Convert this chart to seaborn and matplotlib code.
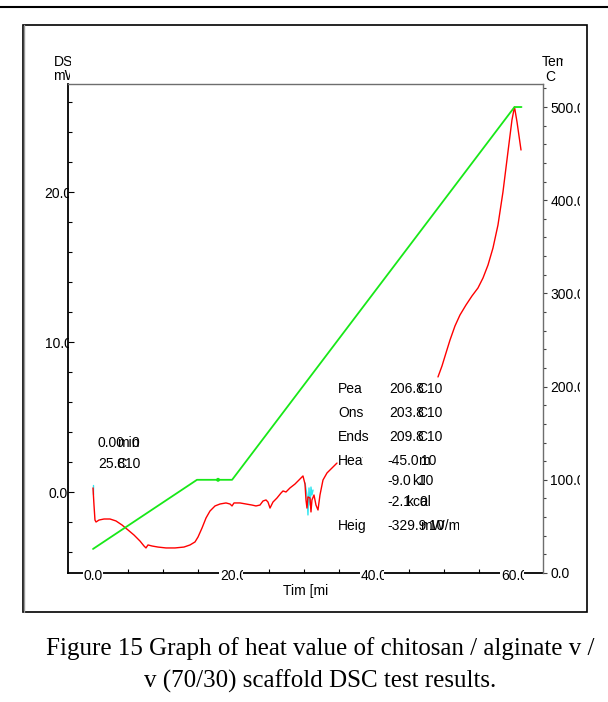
import matplotlib
matplotlib.use("Agg")
import numpy as np
import pandas as pd
import seaborn as sns
import matplotlib.pyplot as plt
from matplotlib.patches import Rectangle
from matplotlib.lines import Line2D
from matplotlib.transforms import Bbox, TransformedBbox, blended_transform_factory

# ---------------- data ----------------
dsc_time = [0.0, 0.14, 0.28, 0.43, 0.85, 1.57, 2.42, 3.27, 4.13, 4.98, 5.84, 6.69, 7.26, 7.54,
            7.83, 8.4, 9.25, 10.39, 11.67, 12.95, 13.81, 14.52, 14.95, 15.52, 16.09, 16.65,
            17.37, 18.08, 18.93, 19.5, 19.79, 20.07, 20.93, 21.78, 22.63, 23.2, 23.77, 24.2,
            24.63, 24.91, 25.2, 25.62, 26.19, 26.76, 27.05, 27.47, 28.04, 28.75, 29.47, 29.89,
            30.18, 30.32, 30.46, 30.6, 30.89, 31.03, 31.17, 31.46, 31.74, 32.03, 32.31, 32.74,
            33.31, 34.02, 34.73,
            49.11, 49.68, 50.25, 50.82, 51.53, 52.24, 53.1, 53.95, 54.8, 55.52, 56.23, 56.94,
            57.65, 58.36, 59.07, 59.64, 60.0, 60.36, 60.93]
dsc_mw = [0.27, -0.87, -1.87, -2.0, -1.87, -1.8, -1.8, -1.93, -2.2, -2.53, -2.87, -3.27, -3.6, -3.73,
          -3.53, -3.6, -3.67, -3.73, -3.73, -3.67, -3.53, -3.33, -3.0, -2.4, -1.73, -1.27,
          -0.93, -0.8, -0.73, -0.8, -0.93, -0.73, -0.73, -0.8, -0.87, -0.93, -0.87, -0.6,
          -0.53, -0.67, -1.07, -0.67, -0.4, -0.07, 0.07, 0.0, 0.27, 0.53, 0.87, 1.07,
          0.53, -0.53, -1.07, -0.33, -0.4, -1.33, -0.53, -0.2, -0.87, -1.2, -0.2, 0.8,
          1.27, 1.6, 1.93,
          7.67, 8.4, 9.27, 10.13, 11.07, 11.8, 12.47, 13.07, 13.6, 14.27, 15.13, 16.27,
          17.8, 20.0, 22.67, 24.8, 25.67, 24.67, 22.8]
dsc_seg = [0] * 65 + [1] * 19

cyan_time = [-0.07, -0.07, 30.18, 30.46, 30.6, 30.75, 30.9, 31.03, 31.17, 31.32]
cyan_mw = [0.47, -0.1, 0.6, -0.2, -1.53, 0.27, -0.87, 0.33, -0.2, 0.13]
cyan_seg = [0, 0, 1, 1, 1, 1, 1, 1, 1, 1]

temp_time = [0.0, 14.8, 19.8, 60.0, 61.0]
temp_c = [25.8, 100.0, 100.0, 500.0, 500.0]
mark_time = [17.8]
mark_c = [100.0]

left_ticks = [0, 10, 20]
left_labels = ["0.0", "10.0", "20.0"]
right_ticks = [0, 100, 200, 300, 400, 500]
right_labels = ["0.0", "100.0", "200.0", "300.0", "400.0", "500.0"]
x_ticks = [0, 20, 40, 60]
x_labels = ["0.0", "20.0", "40.0", "60.0"]

annot_names = ["Peak", "Onset", "Endset", "Heat", "Height"]
caption1 = "Figure 15 Graph of heat value of chitosan / alginate v /"
caption2 = "v (70/30) scaffold DSC test results."

# ---------------- figure ----------------
W, H = 608, 702
sns.set_theme(style="white")
plt.rcParams['font.family'] = ['Liberation Sans', 'DejaVu Sans']

fig = plt.figure(figsize=(W / 100, H / 100), dpi=100)
fig.patch.set_facecolor("white")

def fx(px):
    return px / W

def fy(py):
    return 1 - py / H

AX_L, AX_R, AX_T, AX_B = 68, 543, 84, 573
ax = fig.add_axes([fx(AX_L), fy(AX_B), (AX_R - AX_L) / W, (AX_B - AX_T) / H])
ax2 = ax.twinx()

dsc_df = pd.DataFrame({"t": dsc_time, "mw": dsc_mw, "seg": dsc_seg})
cyan_df = pd.DataFrame({"t": cyan_time, "mw": cyan_mw, "seg": cyan_seg})
temp_df = pd.DataFrame({"t": temp_time, "c": temp_c})
mark_df = pd.DataFrame({"t": mark_time, "c": mark_c})

sns.lineplot(data=dsc_df, x="t", y="mw", units="seg", estimator=None, sort=False,
             color="#ff0000", lw=1.0, ax=ax, zorder=3)
sns.lineplot(data=cyan_df, x="t", y="mw", units="seg", estimator=None, sort=False,
             color="#33e6f0", lw=1.0, ax=ax, zorder=2)
sns.lineplot(data=temp_df, x="t", y="c", estimator=None, sort=False,
             color="#18e818", lw=1.3, ax=ax2)
sns.scatterplot(data=mark_df, x="t", y="c", color="#18e818", s=8, edgecolor="none", ax=ax2)

ax.set_xlim(-3.56, 64.06)
ax.set_ylim(-5.4, 27.2)
ax2.set_ylim(0, 524.7)
ax.set_xlabel("")
ax.set_ylabel("")
ax2.set_ylabel("")

# spines
for s in ["left", "bottom"]:
    ax.spines[s].set_color("black")
    ax.spines[s].set_linewidth(1.3)
ax.spines["top"].set_color("#6e6e6e")
ax.spines["top"].set_linewidth(1.0)
ax.spines["right"].set_visible(False)
for s in ["left", "bottom", "top"]:
    ax2.spines[s].set_visible(False)
ax2.spines["right"].set_color("#6e6e6e")
ax2.spines["right"].set_linewidth(1.0)

FS = 10
# left axis ticks
ax.set_yticks(left_ticks)
ax.set_yticklabels(left_labels)
ax.set_yticks(np.arange(-4, 27, 2), minor=True)
ax.tick_params(axis="y", which="major", direction="in", length=4, width=0.8, color="black",
               labelsize=FS, pad=7.2, labelcolor="black")
ax.tick_params(axis="y", which="minor", direction="in", length=3, width=0.8, color="black", left=True)
for lab in ax.get_yticklabels():
    lab.set_ha("center")
    lab.set_clip_on(True)
    lab.set_clip_box(TransformedBbox(Bbox([[0, 0], [fx(AX_L + 0.5), 1]]), fig.transFigure))

# bottom axis ticks
ax.set_xticks(x_ticks)
ax.set_xticklabels(x_labels)
ax.set_xticks(np.arange(0, 64, 5), minor=True)
ax.tick_params(axis="x", which="major", direction="in", length=4, width=0.8, color="black",
               labelsize=FS, pad=1.8, labelcolor="black")
ax.tick_params(axis="x", which="minor", direction="in", length=3, width=0.8, color="black", bottom=True)
ax.xaxis.set_zorder(3)
blend = blended_transform_factory(ax.transData, fig.transFigure)
for tv, lab in zip(x_ticks, ax.get_xticklabels()):
    lab.set_va("center")
    lab.set_bbox(dict(facecolor="white", edgecolor="none", pad=0.6))
    lab.set_clip_on(True)
    lab.set_clip_box(TransformedBbox(Bbox([[tv - 15 / 7.025, 0], [tv + 10 / 7.025, 1]]), blend))

# right axis ticks
ax2.set_yticks(right_ticks)
ax2.set_yticklabels(right_labels)
ax2.set_yticks(np.arange(0, 521, 20), minor=True)
ax2.tick_params(axis="y", which="major", direction="out", length=3, width=0.8, color="#444444",
                labelsize=FS, pad=2.2, labelcolor="black", right=True)
ax2.tick_params(axis="y", which="minor", direction="out", length=2.5, width=0.8, color="#444444", right=True)
for lab in ax2.get_yticklabels():
    lab.set_clip_on(True)
    lab.set_clip_box(TransformedBbox(Bbox([[fx(AX_R), 0], [fx(579.5), 1]]), fig.transFigure))

ax.grid(False)
ax2.grid(False)

# ---------------- texts ----------------
def ptext(x, y, s, clip_x=None, **kw):
    kw.setdefault("fontsize", FS)
    kw.setdefault("va", "center")
    kw.setdefault("ha", "left")
    t = fig.text(fx(x), fy(y), s, color="black", **kw)
    if clip_x is not None:
        t.set_clip_on(True)
        t.set_clip_box(TransformedBbox(Bbox([[0, 0], [fx(clip_x), 1]]), fig.transFigure))
    return t

# axis titles (clipped like the source)
ptext(54, 62, "DSC", clip_x=71)
ptext(53, 76, "mW", clip_x=69.5)
ptext(542, 62, "Temp", clip_x=563)
ptext(545, 77, "C")
ptext(305.5, 591, "Tim [mi", ha="center")

# start annotation
ptext(98, 443, "0.00")
ptext(117, 443, "min")
ptext(131, 443, "0")
ptext(98, 464, "25.8")
ptext(116, 464, "C")
ptext(125, 464, "10")

# peak table
rows_y = [389, 413, 437, 461, 526]
name_clip = [362, 364, 369, 363, 366]
for name, yy, cx in zip(annot_names, rows_y, name_clip):
    ptext(338, yy, name, clip_x=cx)

ptext(389, 389, "206.8"); ptext(417.5, 389, "C"); ptext(426.5, 389, "10")
ptext(389, 413, "203.8"); ptext(417.5, 413, "C"); ptext(426.5, 413, "10")
ptext(389, 437, "209.8"); ptext(417.5, 437, "C"); ptext(426.5, 437, "10")
ptext(387, 461, "-45.0"); ptext(418, 461, "m"); ptext(421, 461, "10")
ptext(387, 481, "-9.0"); ptext(412, 481, "kJ"); ptext(418, 481, "10")
ptext(387, 502, "-2.1"); ptext(406, 502, "kcal"); ptext(419, 502, "0")
ptext(387, 526, "-329.9"); ptext(420, 526, "mW/mg", clip_x=459); ptext(429, 526, "10")

# caption
fig.text(fx(320), fy(649), caption1, ha="center", va="center", fontsize=18,
         family=["Liberation Serif", "DejaVu Serif"], color="black")
fig.text(fx(320), fy(681), caption2, ha="center", va="center", fontsize=18,
         family=["Liberation Serif", "DejaVu Serif"], color="black")

# document frame
fig.patches.append(Rectangle((fx(23), fy(612)), (587 - 23) / W, (612 - 25) / H,
                             transform=fig.transFigure, fill=False, lw=1.2, ec="black"))
fig.lines.append(Line2D([fx(24), fx(24)], [fy(612), fy(25)], transform=fig.transFigure,
                        lw=1.0, color="#999999"))
fig.lines.append(Line2D([0, 1], [fy(7), fy(7)], transform=fig.transFigure, lw=1.5, color="black"))

fig.savefig("out.png", dpi=100, facecolor="white")
